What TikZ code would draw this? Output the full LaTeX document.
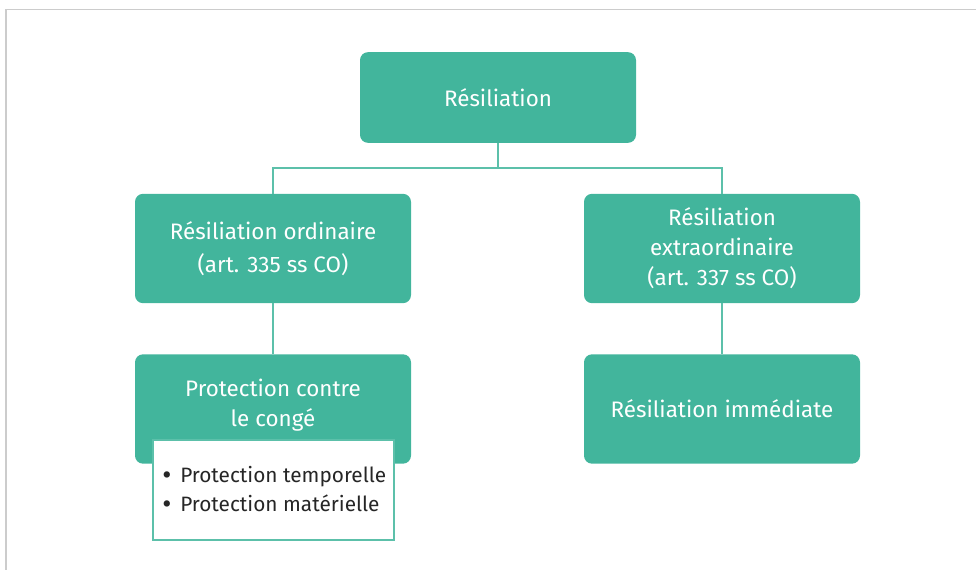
\documentclass[tikz,border=0pt]{standalone}
\usepackage{fontspec}
\setmainfont{Fira Sans}
\definecolor{teal1}{HTML}{42B59C}
\definecolor{tline}{HTML}{5CC0AA}
\definecolor{frame}{HTML}{CCCCCC}
\newcommand{\bigbul}{\makebox[13.5pt][l]{\raisebox{-0.12em}{\fontsize{21}{21}\selectfont •}}}
\begin{document}
\begin{tikzpicture}[x=0.75pt,y=-0.75pt,
  tbox/.style={fill=teal1,draw=none,rounded corners=6pt,text=white,align=center,font=\fontsize{16.8}{24.5}\selectfont,inner sep=0pt},
  conn/.style={draw=tline,line width=1.1pt}]
\useasboundingbox (0,0) rectangle (976,570);
\draw[frame,line width=1.2pt] (6,570) -- (6,9.5) -- (976,9.5);
% boxes
\node[tbox,minimum width=207pt,minimum height=68pt] (top) at (498,97.5) {Résiliation};
\node[tbox,minimum width=207pt,minimum height=82pt] (lmid) at (273,248.5) {Résiliation ordinaire\\(art. 335 ss CO)};
\node[tbox,minimum width=207pt,minimum height=82pt,font=\fontsize{16.8}{22.5}\selectfont] (rmid) at (722,248.5) {Résiliation\\extraordinaire\\(art. 337 ss CO)};
\node[tbox,minimum width=207pt,minimum height=82pt] (lbot) at (273,409) {};
\node[font=\fontsize{16.8}{22}\selectfont,text=white,align=center] (lbott) at (273,405) {Protection contre\\le congé};
\node[tbox,minimum width=207pt,minimum height=82pt] (rbot) at (722,409) {Résiliation immédiate};
\node[draw=tline,line width=0.9pt,fill=white,minimum width=180.75pt,minimum height=75pt,inner sep=0pt] (list) at (273.5,490) {};
\node[anchor=west,font=\fontsize{15.6}{21.75}\selectfont,text=black!85,align=left,inner sep=0pt] (listt) at (162,490) {\bigbul Protection temporelle\\\bigbul Protection matérielle};
% connectors
\coordinate (hj) at (498,168);
\draw[conn] (top.south) -- (hj);
\draw[conn] (lmid.north) -- (273,168) -- (722,168) -- (rmid.north);
\draw[conn] (lmid.south) -- (lbot.north);
\draw[conn] (rmid.south) -- (rbot.north);
\end{tikzpicture}
\end{document}
